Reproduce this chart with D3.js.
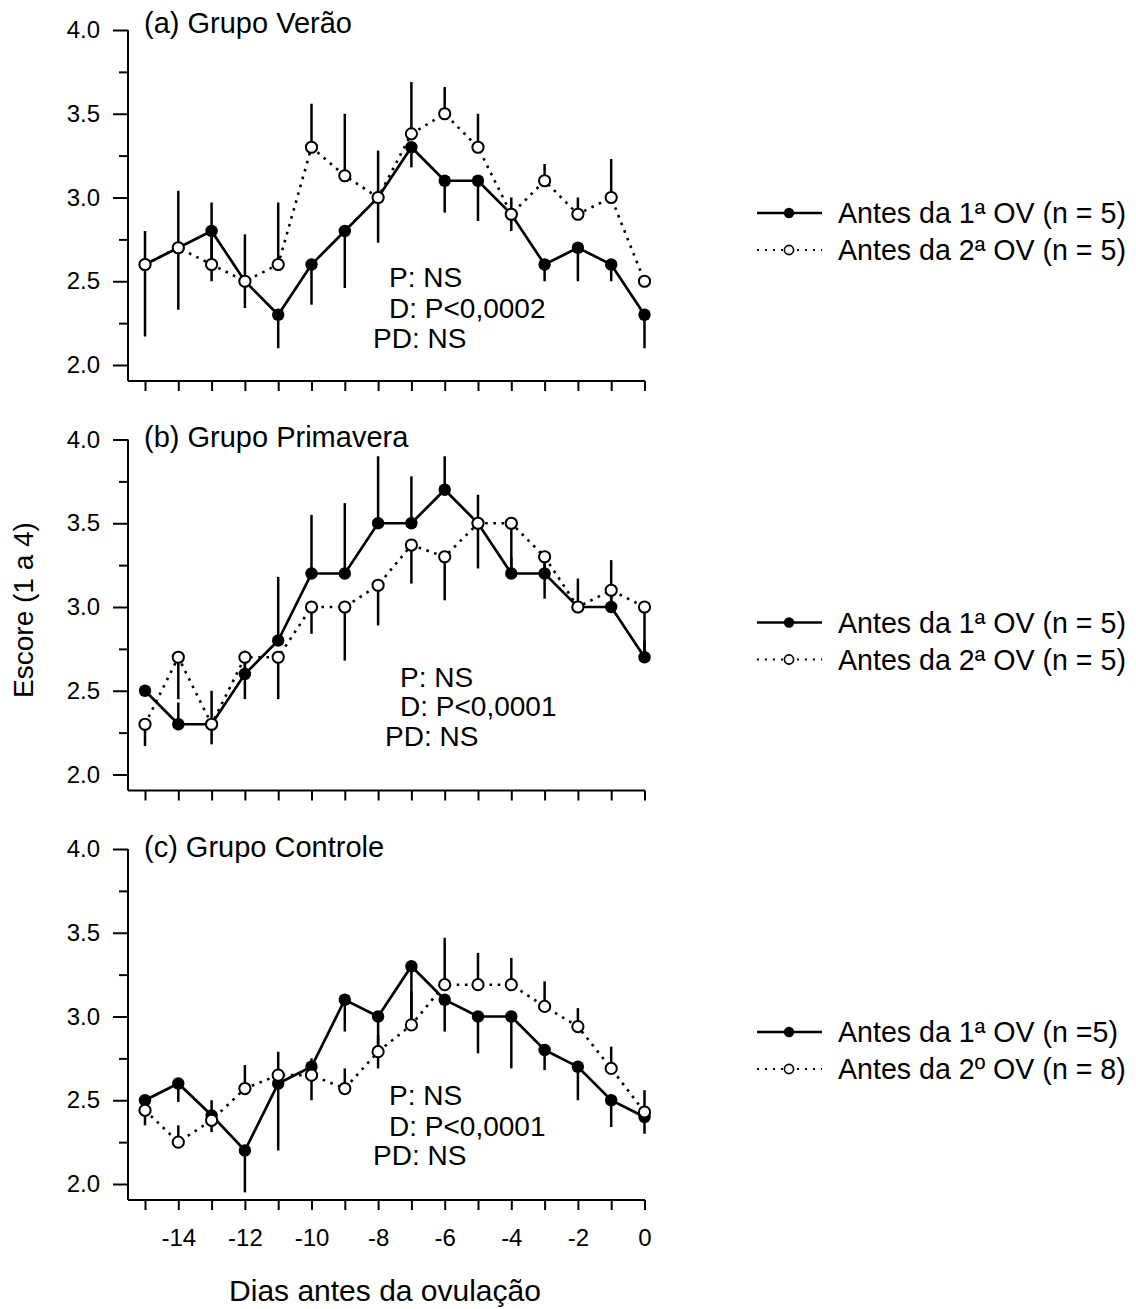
<!DOCTYPE html>
<html lang="pt">
<head>
<meta charset="utf-8">
<style>
  body { margin: 0; background: #fff; }
  svg text { font-family: "Liberation Sans", Arial, Helvetica, sans-serif; fill: #000; }
</style>
</head>
<body>
<div id="viz"></div>
<script src="https://d3js.org/d3.v7.min.js"></script>
<script type="text/javascript">

var w = 1136, h = 1309;

// dias antes da ovulação
var days = [-15, -14, -13, -12, -11, -10, -9, -8, -7, -6, -5, -4, -3, -2, -1, 0];
var xTickLabels = [-14, -12, -10, -8, -6, -4, -2, 0];
var yTicks = [2.0, 2.5, 3.0, 3.5, 4.0];
var yMinorTicks = [2.25, 2.75, 3.25, 3.75];

// (a) Grupo Verão
var veraoAntes1    = [2.6, 2.7, 2.8, 2.5, 2.3, 2.6, 2.8, 3.0, 3.3, 3.1, 3.1, 2.9, 2.6, 2.7, 2.6, 2.3];
var veraoAntes1Err = [0.43, 0.37, 0.3, 0.16, 0.2, 0.24, 0.34, 0.27, 0.12, 0.19, 0.24, 0.1, 0.1, 0.2, 0.1, 0.2];
var veraoAntes2    = [2.6, 2.7, 2.6, 2.5, 2.6, 3.3, 3.13, 3.0, 3.38, 3.5, 3.3, 2.9, 3.1, 2.9, 3.0, 2.5];
var veraoAntes2Err = [0.2, 0.34, 0.37, 0.28, 0.37, 0.26, 0.37, 0.28, 0.31, 0.16, 0.2, 0.1, 0.1, 0.1, 0.23, 0];

// (b) Grupo Primavera
var primaveraAntes1    = [2.5, 2.3, 2.3, 2.6, 2.8, 3.2, 3.2, 3.5, 3.5, 3.7, 3.5, 3.2, 3.2, 3.0, 3.0, 2.7];
var primaveraAntes1Err = [0, 0.13, 0.2, 0.14, 0.38, 0.35, 0.42, 0.4, 0.28, 0.2, 0.17, 0.1, 0.1, 0.17, 0.28, 0.1];
var primaveraAntes2    = [2.3, 2.7, 2.3, 2.7, 2.7, 3.0, 3.0, 3.13, 3.37, 3.3, 3.5, 3.5, 3.3, 3.0, 3.1, 3.0];
var primaveraAntes2Err = [0.13, 0.25, 0.12, 0.25, 0.25, 0.16, 0.32, 0.24, 0.23, 0.26, 0.27, 0.3, 0.25, 0, 0.1, 0.3];

// (c) Grupo Controle
var controleAntes1    = [2.5, 2.6, 2.41, 2.2, 2.6, 2.7, 3.1, 3.0, 3.3, 3.1, 3.0, 3.0, 2.8, 2.7, 2.5, 2.4];
var controleAntes1Err = [0.15, 0.11, 0.1, 0.25, 0.4, 0.2, 0.19, 0.31, 0.36, 0.19, 0.22, 0.31, 0.12, 0.2, 0.16, 0.1];
var controleAntes2    = [2.44, 2.25, 2.38, 2.57, 2.65, 2.65, 2.57, 2.79, 2.95, 3.19, 3.19, 3.19, 3.06, 2.94, 2.69, 2.43];
var controleAntes2Err = [0.05, 0.1, 0.12, 0.14, 0.14, 0.1, 0.12, 0.1, 0.2, 0.28, 0.19, 0.16, 0.15, 0.11, 0.13, 0.13];

var statsVerao = ["P: NS", "D: P<0,0002", "PD: NS"];
var statsPrimavera = ["P: NS", "D: P<0,0001", "PD: NS"];
var statsControle = ["P: NS", "D: P<0,0001", "PD: NS"];

var legendVerao = ["Antes da 1ª OV (n = 5)", "Antes da 2ª OV (n = 5)"];
var legendPrimavera = ["Antes da 1ª OV (n = 5)", "Antes da 2ª OV (n = 5)"];
var legendControle = ["Antes da 1ª OV (n =5)", "Antes da 2º OV (n = 8)"];

// dir: -1 = barra para baixo, 1 = barra para cima
var panels = [
  {title: "(a) Grupo Verão", top: 30, titleDy: 3,
   s1: veraoAntes1, e1: veraoAntes1Err, dir1: -1,
   s2: veraoAntes2, e2: veraoAntes2Err, dir2: 1,
   stats: statsVerao, statsX: [389, 389, 373], statsDy: [257, 288, 318],
   legend: legendVerao, labels: false},
  {title: "(b) Grupo Primavera", top: 439.5, titleDy: 7.5,
   s1: primaveraAntes1, e1: primaveraAntes1Err, dir1: 1,
   s2: primaveraAntes2, e2: primaveraAntes2Err, dir2: -1,
   stats: statsPrimavera, statsX: [400, 400, 385], statsDy: [247, 276, 306],
   legend: legendPrimavera, labels: false},
  {title: "(c) Grupo Controle", top: 849, titleDy: 8,
   s1: controleAntes1, e1: controleAntes1Err, dir1: -1,
   s2: controleAntes2, e2: controleAntes2Err, dir2: 1,
   stats: statsControle, statsX: [389, 389, 373], statsDy: [256, 287, 316],
   legend: legendControle, labels: true}
];

var axisLeftX = 128, axisRightX = 645;
var plotH = 335, axisGap = 16;

var svg = d3.select("#viz")
  .append("svg")
  .attr("width", w)
  .attr("height", h);

var x = d3.scaleLinear().domain([-15, 0]).range([145, 644.5]);

var dotted = "2.6,5.6";

function drawPanel(p){
  var y = d3.scaleLinear().domain([2, 4]).range([p.top + plotH, p.top]);
  var bottom = p.top + plotH + axisGap;
  var g = svg.append("g");

  // eixo y
  g.append("line")
    .attr("x1", axisLeftX).attr("x2", axisLeftX)
    .attr("y1", p.top).attr("y2", bottom)
    .attr("stroke", "#000").attr("stroke-width", 2);

  var ya = g.append("g")
    .attr("transform", "translate(" + axisLeftX + ",0)")
    .call(d3.axisLeft(y).tickValues(yTicks).tickSize(15).tickPadding(13)
      .tickFormat(d3.format(".1f")));
  ya.select(".domain").remove();
  ya.selectAll("line").attr("stroke-width", 2);
  ya.selectAll("text").attr("font-size", 24).attr("font-family", null);

  var ym = g.append("g")
    .attr("transform", "translate(" + axisLeftX + ",0)")
    .call(d3.axisLeft(y).tickValues(yMinorTicks).tickSize(9).tickFormat(""));
  ym.select(".domain").remove();
  ym.selectAll("line").attr("stroke-width", 2);

  // eixo x
  g.append("line")
    .attr("x1", axisLeftX).attr("x2", axisRightX)
    .attr("y1", bottom).attr("y2", bottom)
    .attr("stroke", "#000").attr("stroke-width", 2);

  var xa = g.append("g")
    .attr("transform", "translate(0," + bottom + ")")
    .call(d3.axisBottom(x).tickValues(days).tickSize(10).tickPadding(19)
      .tickFormat((d)=>{ return (p.labels && xTickLabels.indexOf(d) >= 0) ? String(d) : ""; }));
  xa.select(".domain").remove();
  xa.selectAll("line").attr("stroke-width", 2);
  xa.selectAll("text").attr("font-size", 24).attr("font-family", null);

  // título
  g.append("text")
    .attr("x", 144).attr("y", p.top + p.titleDy)
    .attr("font-size", 29)
    .text(p.title);

  // linhas
  var line1 = d3.line().x((d,i)=>{ return x(days[i]); }).y((d)=>{ return y(d); });

  g.append("path").datum(p.s1)
    .attr("d", line1)
    .attr("fill", "none").attr("stroke", "#000").attr("stroke-width", 2.7);

  g.append("path").datum(p.s2)
    .attr("d", line1)
    .attr("fill", "none").attr("stroke", "#000").attr("stroke-width", 2.6)
    .attr("stroke-dasharray", dotted);

  // barras de erro
  g.selectAll(".err1").data(p.s1).enter().append("line")
    .attr("class", "err1")
    .attr("x1", (d,i)=>{ return x(days[i]); })
    .attr("x2", (d,i)=>{ return x(days[i]); })
    .attr("y1", (d)=>{ return y(d); })
    .attr("y2", (d,i)=>{ return y(d + p.dir1 * p.e1[i]); })
    .attr("stroke", "#000").attr("stroke-width", 2.5);

  g.selectAll(".err2").data(p.s2).enter().append("line")
    .attr("class", "err2")
    .attr("x1", (d,i)=>{ return x(days[i]); })
    .attr("x2", (d,i)=>{ return x(days[i]); })
    .attr("y1", (d)=>{ return y(d); })
    .attr("y2", (d,i)=>{ return y(d + p.dir2 * p.e2[i]); })
    .attr("stroke", "#000").attr("stroke-width", 2.5);

  // pontos
  g.selectAll(".pt1").data(p.s1).enter().append("circle")
    .attr("class", "pt1")
    .attr("cx", (d,i)=>{ return x(days[i]); })
    .attr("cy", (d)=>{ return y(d); })
    .attr("r", 6.2)
    .attr("fill", "#000");

  g.selectAll(".pt2").data(p.s2).enter().append("circle")
    .attr("class", "pt2")
    .attr("cx", (d,i)=>{ return x(days[i]); })
    .attr("cy", (d)=>{ return y(d); })
    .attr("r", 5.6)
    .attr("fill", "#fff").attr("stroke", "#000").attr("stroke-width", 2);

  // estatística
  g.selectAll(".stat").data(p.stats).enter().append("text")
    .attr("class", "stat")
    .attr("x", (d,i)=>{ return p.statsX[i]; })
    .attr("y", (d,i)=>{ return p.top + p.statsDy[i]; })
    .attr("font-size", 28)
    .text((d)=>{ return d; });

  // legenda
  var ly = [p.top + 183, p.top + 220];
  var leg = g.append("g");
  leg.append("line")
    .attr("x1", 757).attr("x2", 822).attr("y1", ly[0]).attr("y2", ly[0])
    .attr("stroke", "#000").attr("stroke-width", 2.5);
  leg.append("circle")
    .attr("cx", 789).attr("cy", ly[0]).attr("r", 5.2).attr("fill", "#000");
  leg.append("line")
    .attr("x1", 757).attr("x2", 822).attr("y1", ly[1]).attr("y2", ly[1])
    .attr("stroke", "#000").attr("stroke-width", 2)
    .attr("stroke-dasharray", "2,6");
  leg.append("circle")
    .attr("cx", 789).attr("cy", ly[1]).attr("r", 4.6)
    .attr("fill", "#fff").attr("stroke", "#000").attr("stroke-width", 1.6);
  leg.selectAll(".legtext").data(p.legend).enter().append("text")
    .attr("class", "legtext")
    .attr("x", 838)
    .attr("y", (d,i)=>{ return ly[i] + 10; })
    .attr("font-size", 28.6)
    .text((d)=>{ return d; });
}

panels.forEach(drawPanel);

// títulos dos eixos
svg.append("text")
  .attr("transform", "translate(33,610) rotate(-90)")
  .attr("text-anchor", "middle")
  .attr("font-size", 28)
  .text("Escore (1 a 4)");

svg.append("text")
  .attr("x", 385).attr("y", 1301)
  .attr("text-anchor", "middle")
  .attr("font-size", 30)
  .text("Dias antes da ovulação");

</script>
</body>
</html>
